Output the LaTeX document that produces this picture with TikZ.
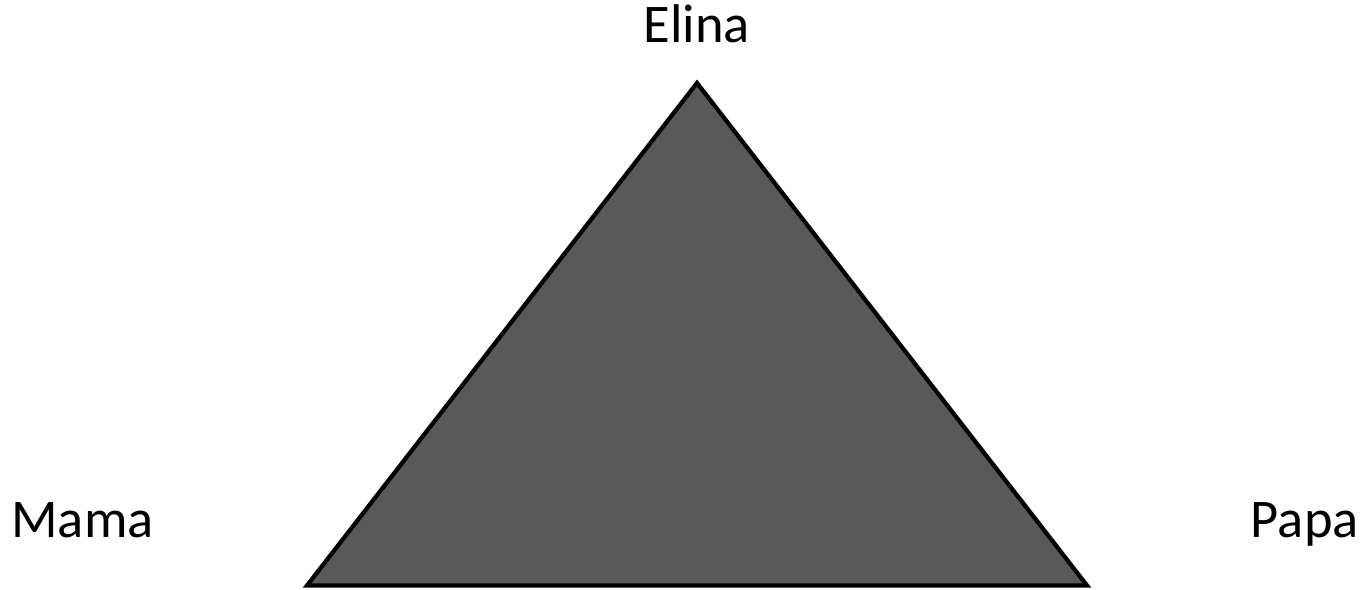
\documentclass[tikz,border=0pt]{standalone}
\usepackage{fontspec}
\setmainfont{Carlito}
\usepackage{xcolor}
\usepackage{tikz}
\usetikzlibrary{positioning}
\definecolor{trifill}{HTML}{595959}
\tikzset{
  tri/.style={draw=black,line width=0.085cm,fill=trifill,line join=miter},
  lbl/.style={font=\fontsize{31}{36}\selectfont,inner sep=0pt}
}

\begin{document}
\begin{tikzpicture}[x=0.02cm,y=0.02cm]
\useasboundingbox (0,0) rectangle (1364,589);
\coordinate (top) at (697,506);
\coordinate (left) at (307,3.5);
\coordinate (right) at (1087,3.5);
\draw[tri] (top)--(right)--(left)--cycle;
\node[lbl,anchor=base] (elina) at (697,546) {Elina};
\node[lbl,anchor=base west] (mama) at (11,52) {Mama};
\node[lbl,anchor=base east] (papa) at (1359,52) {Papa};
\end{tikzpicture}
\end{document}
